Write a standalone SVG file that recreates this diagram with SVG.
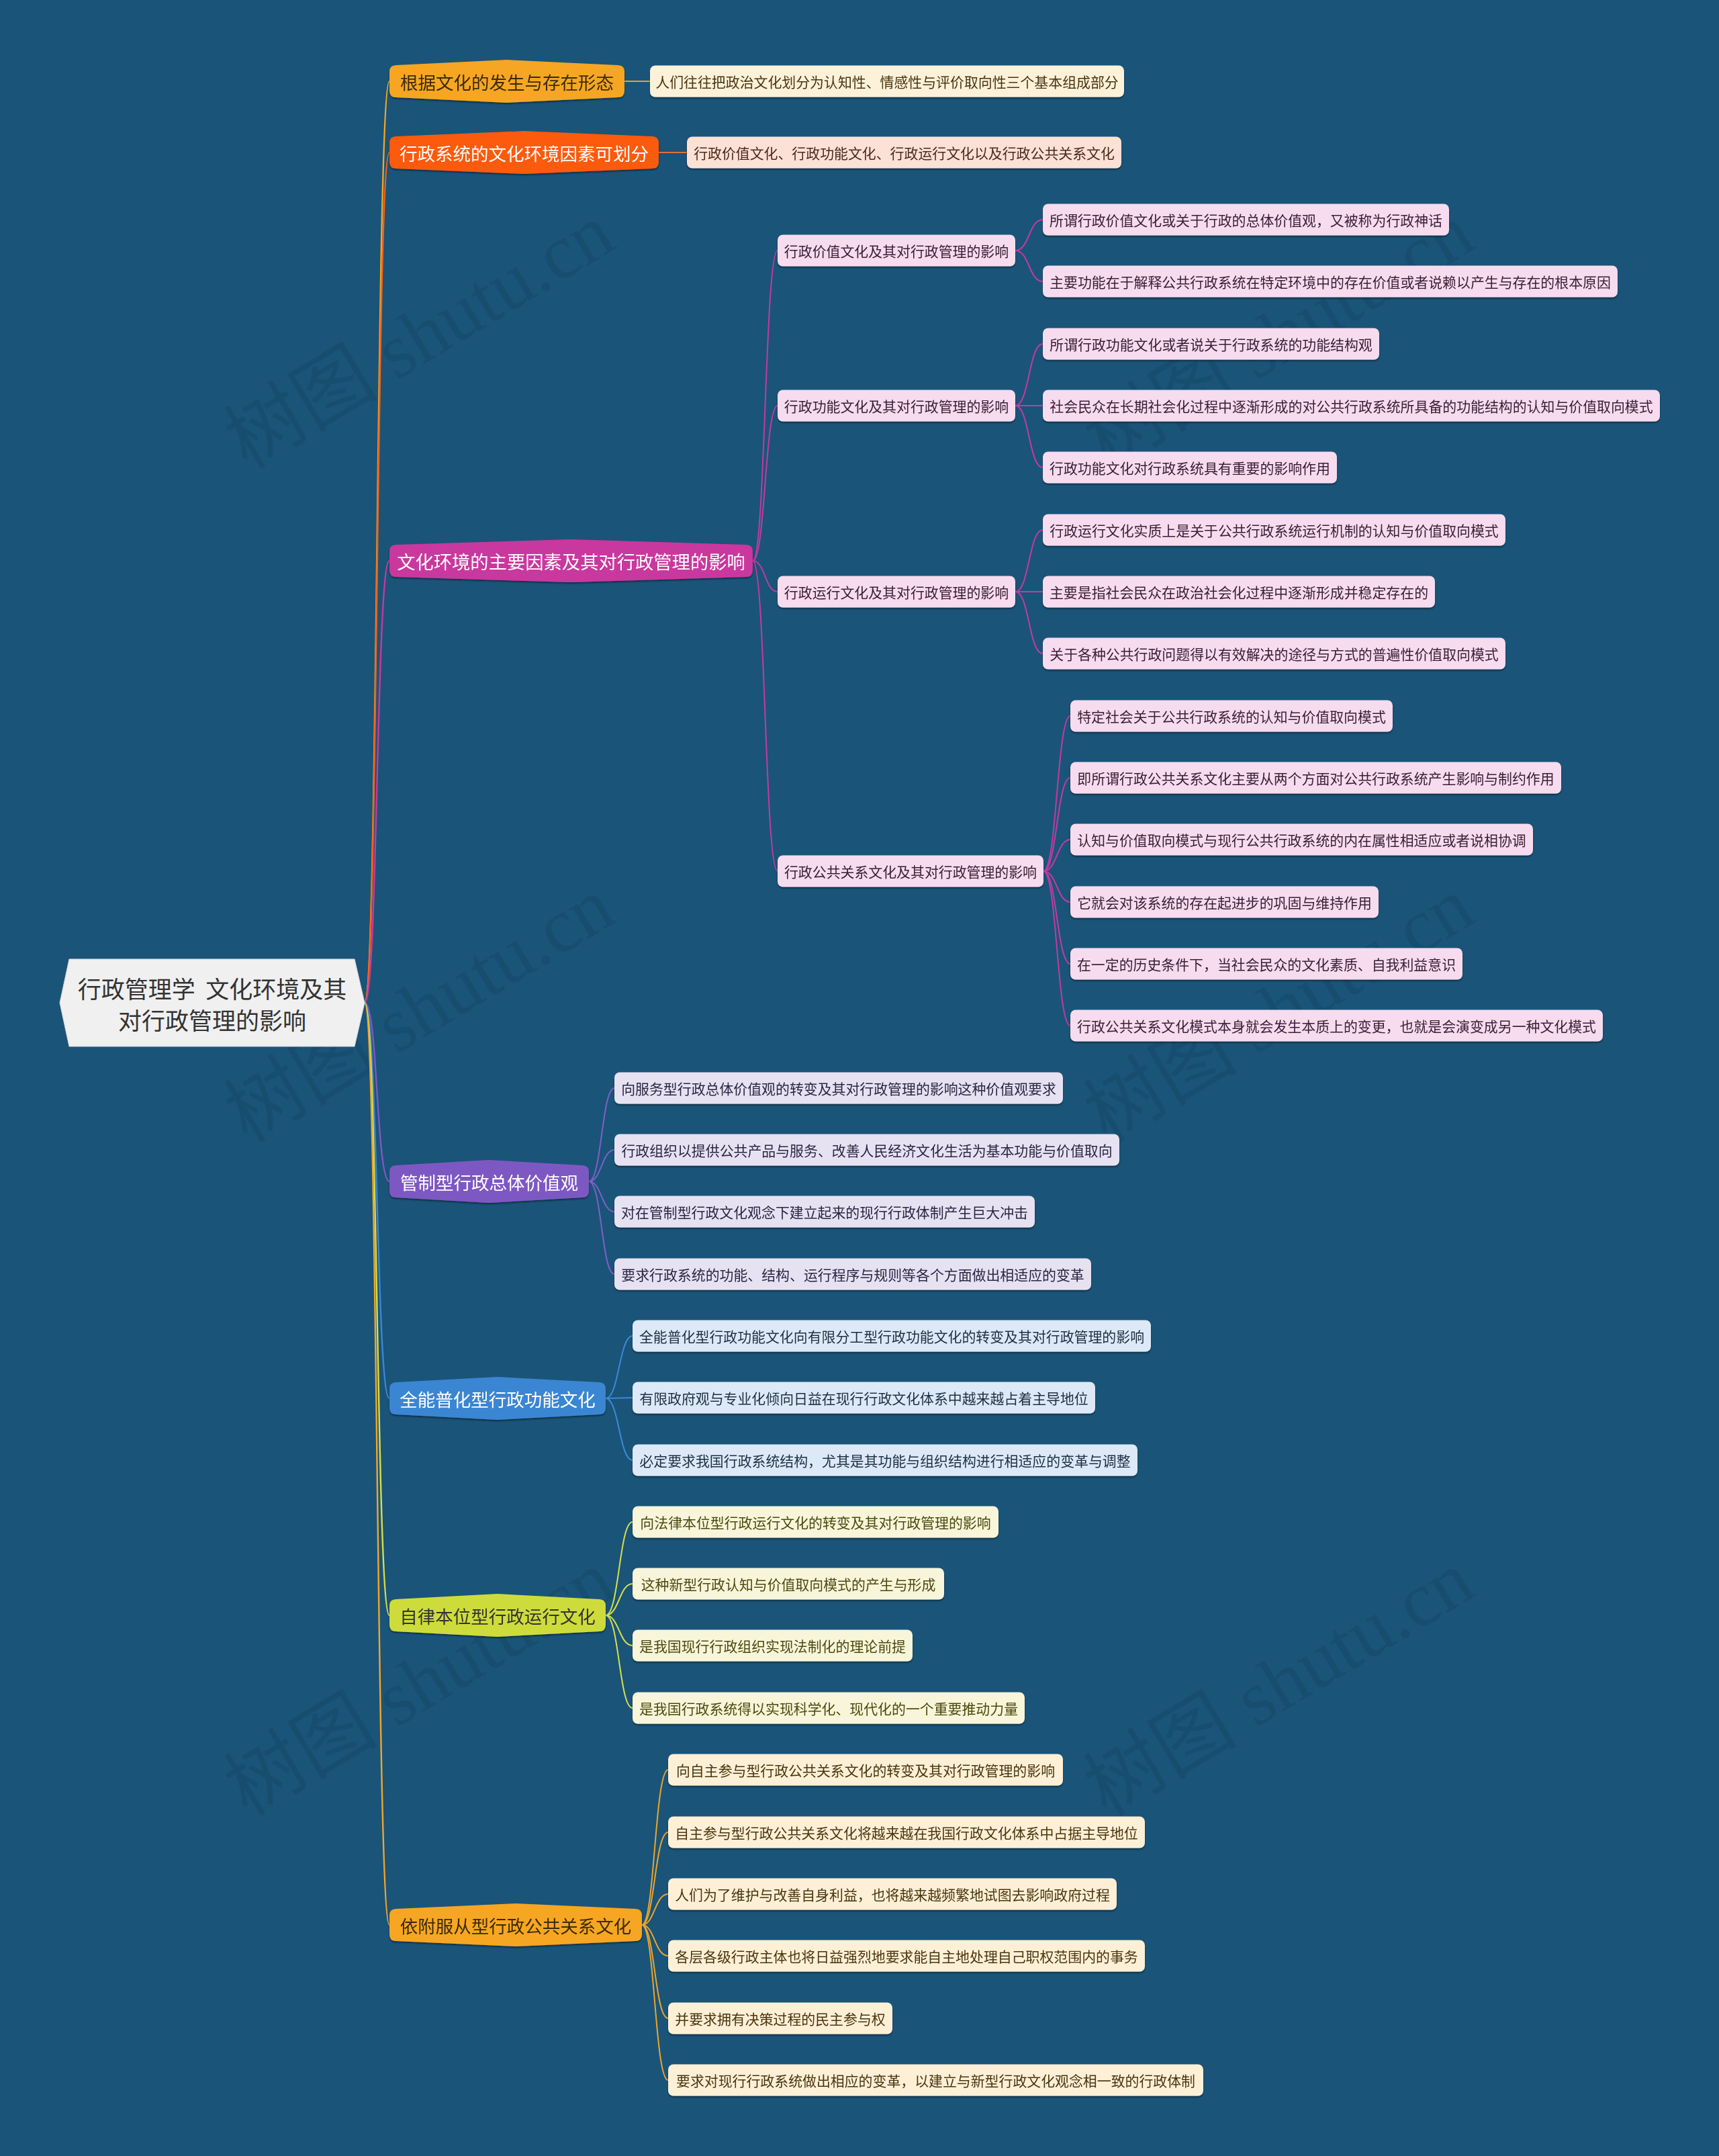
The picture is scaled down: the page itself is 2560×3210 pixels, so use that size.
<svg xmlns="http://www.w3.org/2000/svg" width="2560" height="3210" viewBox="0 0 2560 3210">
<defs>
<filter id="ds" x="-5%" y="-20%" width="110%" height="150%">
<feDropShadow dx="0" dy="2" stdDeviation="0.8" flood-color="#000" flood-opacity="0.45"/>
</filter>
</defs>
<style>
text{font-family:"Noto Sans CJK SC","Noto Sans",sans-serif;dominant-baseline:central;text-anchor:middle}
.wm{font-family:"Liberation Serif","Noto Sans CJK SC",serif;font-size:115px;fill:#000;fill-opacity:0.08;text-anchor:start;dominant-baseline:auto}
.l1{font-size:26.5px}
.lf{font-size:20.9px}
.w{fill:#ffffff}
.dk{fill:#3a2a08}
.c{fill:none;stroke-width:2}
.rc{fill:none;stroke-width:2.4}
.lv{filter:url(#ds)}
.a rect{fill:#fdf1d9}.a text{fill:#4a3510}
.b rect{fill:#fde1d4}.b text{fill:#4a2a1a}
.m rect{fill:#f6dcee}.m text{fill:#3a1a35}
.p rect{fill:#e7e2f2}.p text{fill:#2a2542}
.bl rect{fill:#dde9f6}.bl text{fill:#1e2f42}
.y rect{fill:#f7f6da}.y text{fill:#4c4a10}
.o rect{fill:#fdf0d6}.o text{fill:#4a3510}
</style>
<rect x="0" y="0" width="2560" height="3210" fill="#1a5479"/>
<g id="watermarks">
<text class="wm" transform="translate(368,700) rotate(-31)">树图 shutu.cn</text>
<text class="wm" transform="translate(1648,700) rotate(-31)">树图 shutu.cn</text>
<text class="wm" transform="translate(368,1703) rotate(-31)">树图 shutu.cn</text>
<text class="wm" transform="translate(1648,1703) rotate(-31)">树图 shutu.cn</text>
<text class="wm" transform="translate(368,2706) rotate(-31)">树图 shutu.cn</text>
<text class="wm" transform="translate(1648,2706) rotate(-31)">树图 shutu.cn</text>
</g>
<g id="connectors">
<path class="rc" stroke="#f2a62a" d="M543,1493 C563,1493 560,121 580,121"/>
<path class="rc" stroke="#fc5f14" d="M543,1493 C563,1493 560,227 580,227"/>
<path class="rc" stroke="#c9389e" d="M543,1493 C563,1493 560,835 580,835"/>
<path class="rc" stroke="#7e58c2" d="M543,1493 C563,1493 560,1759 580,1759"/>
<path class="rc" stroke="#3a86d2" d="M543,1493 C563,1493 560,2082 580,2082"/>
<path class="rc" stroke="#d4df45" d="M543,1493 C563,1493 560,2405 580,2405"/>
<path class="rc" stroke="#f2a62a" d="M543,1493 C563,1493 560,2866 580,2866"/>
<path class="c" stroke="#e8a23a" d="M930,121 L968,121"/>
<path class="c" stroke="#e0703a" d="M981,227 L1023,227"/>
<g stroke="#c23b9f">
<path class="c" d="M1121,835 C1140,835 1139,373 1158,373"/>
<path class="c" d="M1121,835 C1140,835 1139,604 1158,604"/>
<path class="c" d="M1121,835 C1140,835 1139,881 1158,881"/>
<path class="c" d="M1121,835 C1140,835 1139,1297 1158,1297"/>
<path class="c" d="M1512,373 C1533,373 1532,327 1553,327"/>
<path class="c" d="M1512,373 C1533,373 1532,419 1553,419"/>
<path class="c" d="M1512,604 C1533,604 1532,512 1553,512"/>
<path class="c" d="M1512,604 L1553,604"/>
<path class="c" d="M1512,604 C1533,604 1532,696 1553,696"/>
<path class="c" d="M1512,881 C1533,881 1532,789 1553,789"/>
<path class="c" d="M1512,881 L1553,881"/>
<path class="c" d="M1512,881 C1533,881 1532,973 1553,973"/>
<path class="c" d="M1554,1297 C1574,1297 1574,1066 1594,1066"/>
<path class="c" d="M1554,1297 C1574,1297 1574,1158 1594,1158"/>
<path class="c" d="M1554,1297 C1574,1297 1574,1250 1594,1250"/>
<path class="c" d="M1554,1297 C1574,1297 1574,1343 1594,1343"/>
<path class="c" d="M1554,1297 C1574,1297 1574,1435 1594,1435"/>
<path class="c" d="M1554,1297 C1574,1297 1574,1527 1594,1527"/>
</g>
<g stroke="#7e60c6">
<path class="c" d="M877,1759 C896,1759 896,1620 915,1620"/>
<path class="c" d="M877,1759 C896,1759 896,1712 915,1712"/>
<path class="c" d="M877,1759 C896,1759 896,1804 915,1804"/>
<path class="c" d="M877,1759 C896,1759 896,1897 915,1897"/>
</g>
<g stroke="#3a8ad6">
<path class="c" d="M902,2082 C922,2082 922,1989 942,1989"/>
<path class="c" d="M902,2082 L942,2081"/>
<path class="c" d="M902,2082 C922,2082 922,2174 942,2174"/>
</g>
<g stroke="#d4e04a">
<path class="c" d="M902,2405 C922,2405 922,2266 942,2266"/>
<path class="c" d="M902,2405 C922,2405 922,2358 942,2358"/>
<path class="c" d="M902,2405 C922,2405 922,2450 942,2450"/>
<path class="c" d="M902,2405 C922,2405 922,2543 942,2543"/>
</g>
<g stroke="#eea52a">
<path class="c" d="M956,2866 C975,2866 975,2635 995,2635"/>
<path class="c" d="M956,2866 C975,2866 975,2728 995,2728"/>
<path class="c" d="M956,2866 C975,2866 975,2820 995,2820"/>
<path class="c" d="M956,2866 C975,2866 975,2912 995,2912"/>
<path class="c" d="M956,2866 C975,2866 975,3005 995,3005"/>
<path class="c" d="M956,2866 C975,2866 975,3097 995,3097"/>
</g>
</g>
<g id="root">
<polygon points="89,1493 103,1428 528,1428 543,1493 528,1558 103,1558" fill="#f0f0f0" stroke="#d8d8d8" stroke-width="1"/>
<text x="316" y="1470" font-size="35" fill="#333333" xml:space="preserve">行政管理学  文化环境及其</text>
<text x="316" y="1517" font-size="35" fill="#333333">对行政管理的影响</text>
</g>
<g id="n1" class="lv"><path fill="#f6a623" d="M590,97 L755,89 L920,97 Q930,97 930,107 L930,135 Q930,145 920,145 L755,153 L590,145 Q580,145 580,135 L580,107 Q580,97 590,97 Z"/><text class="l1 dk" x="755" y="121">根据文化的发生与存在形态</text></g>
<g id="n2" class="lv"><path fill="#fc5a0c" d="M590,203 L780,195 L971,203 Q981,203 981,213 L981,241 Q981,251 971,251 L780,259 L590,251 Q580,251 580,241 L580,213 Q580,203 590,203 Z"/><text class="l1 w" x="780.5" y="227">行政系统的文化环境因素可划分</text></g>
<g id="n3" class="lv"><path fill="#c9389e" d="M590,811 L850,803 L1111,811 Q1121,811 1121,821 L1121,849 Q1121,859 1111,859 L850,867 L590,859 Q580,859 580,849 L580,821 Q580,811 590,811 Z"/><text class="w" font-size="27.3" x="850.5" y="835">文化环境的主要因素及其对行政管理的影响</text></g>
<g id="n4" class="lv"><path fill="#7e58c2" d="M590,1735 L728,1727 L867,1735 Q877,1735 877,1745 L877,1773 Q877,1783 867,1783 L728,1791 L590,1783 Q580,1783 580,1773 L580,1745 Q580,1735 590,1735 Z"/><text class="l1 w" x="728.5" y="1759">管制型行政总体价值观</text></g>
<g id="n5" class="lv"><path fill="#3a86d2" d="M590,2058 L741,2050 L892,2058 Q902,2058 902,2068 L902,2096 Q902,2106 892,2106 L741,2114 L590,2106 Q580,2106 580,2096 L580,2068 Q580,2058 590,2058 Z"/><text class="l1 w" x="741" y="2082">全能普化型行政功能文化</text></g>
<g id="n6" class="lv"><path fill="#cedc3a" d="M590,2381 L741,2373 L892,2381 Q902,2381 902,2391 L902,2419 Q902,2429 892,2429 L741,2437 L590,2429 Q580,2429 580,2419 L580,2391 Q580,2381 590,2381 Z"/><text class="l1" fill="#333333" x="741" y="2405">自律本位型行政运行文化</text></g>
<g id="n7" class="lv"><path fill="#f6a623" d="M590,2842 L768,2834 L946,2842 Q956,2842 956,2852 L956,2880 Q956,2890 946,2890 L768,2898 L590,2890 Q580,2890 580,2880 L580,2852 Q580,2842 590,2842 Z"/><text class="l1 dk" x="768" y="2866">依附服从型行政公共关系文化</text></g>
<g id="La" class="lv a"><rect x="968" y="97.5" width="706" height="47" rx="8"/><text class="lf" x="1321" y="121">人们往往把政治文化划分为认知性、情感性与评价取向性三个基本组成部分</text></g>
<g id="Lb" class="lv b"><rect x="1023" y="203.5" width="647" height="47" rx="8"/><text class="lf" x="1346.5" y="227">行政价值文化、行政功能文化、行政运行文化以及行政公共关系文化</text></g>
<g id="S1" class="lv m"><rect x="1158" y="349.5" width="354" height="47" rx="8"/><text class="lf" x="1335" y="373">行政价值文化及其对行政管理的影响</text></g>
<g id="S2" class="lv m"><rect x="1158" y="580.5" width="354" height="47" rx="8"/><text class="lf" x="1335" y="604">行政功能文化及其对行政管理的影响</text></g>
<g id="S3" class="lv m"><rect x="1158" y="857.5" width="354" height="47" rx="8"/><text class="lf" x="1335" y="881">行政运行文化及其对行政管理的影响</text></g>
<g id="S4" class="lv m"><rect x="1158" y="1273.5" width="396" height="47" rx="8"/><text class="lf" x="1356" y="1297">行政公共关系文化及其对行政管理的影响</text></g>
<g id="k0" class="lv m"><rect x="1553" y="303.5" width="605" height="47" rx="8"/><text class="lf" x="1855.5" y="327">所谓行政价值文化或关于行政的总体价值观，又被称为行政神话</text></g>
<g id="k1" class="lv m"><rect x="1553" y="395.5" width="856" height="47" rx="8"/><text class="lf" x="1981" y="419">主要功能在于解释公共行政系统在特定环境中的存在价值或者说赖以产生与存在的根本原因</text></g>
<g id="k2" class="lv m"><rect x="1553" y="488.5" width="501" height="47" rx="8"/><text class="lf" x="1803.5" y="512">所谓行政功能文化或者说关于行政系统的功能结构观</text></g>
<g id="k3" class="lv m"><rect x="1553" y="580.5" width="919" height="47" rx="8"/><text class="lf" x="2012.5" y="604">社会民众在长期社会化过程中逐渐形成的对公共行政系统所具备的功能结构的认知与价值取向模式</text></g>
<g id="k4" class="lv m"><rect x="1553" y="672.5" width="438" height="47" rx="8"/><text class="lf" x="1772" y="696">行政功能文化对行政系统具有重要的影响作用</text></g>
<g id="k5" class="lv m"><rect x="1553" y="765.5" width="689" height="47" rx="8"/><text class="lf" x="1897.5" y="789">行政运行文化实质上是关于公共行政系统运行机制的认知与价值取向模式</text></g>
<g id="k6" class="lv m"><rect x="1553" y="857.5" width="584" height="47" rx="8"/><text class="lf" x="1845" y="881">主要是指社会民众在政治社会化过程中逐渐形成并稳定存在的</text></g>
<g id="k7" class="lv m"><rect x="1553" y="949.5" width="689" height="47" rx="8"/><text class="lf" x="1897.5" y="973">关于各种公共行政问题得以有效解决的途径与方式的普遍性价值取向模式</text></g>
<g id="k8" class="lv m"><rect x="1594" y="1042.5" width="480" height="47" rx="8"/><text class="lf" x="1834" y="1066">特定社会关于公共行政系统的认知与价值取向模式</text></g>
<g id="k9" class="lv m"><rect x="1594" y="1134.5" width="731" height="47" rx="8"/><text class="lf" x="1959.5" y="1158">即所谓行政公共关系文化主要从两个方面对公共行政系统产生影响与制约作用</text></g>
<g id="k10" class="lv m"><rect x="1594" y="1226.5" width="689" height="47" rx="8"/><text class="lf" x="1938.5" y="1250">认知与价值取向模式与现行公共行政系统的内在属性相适应或者说相协调</text></g>
<g id="k11" class="lv m"><rect x="1594" y="1319.5" width="459" height="47" rx="8"/><text class="lf" x="1823.5" y="1343">它就会对该系统的存在起进步的巩固与维持作用</text></g>
<g id="k12" class="lv m"><rect x="1594" y="1411.5" width="584" height="47" rx="8"/><text class="lf" x="1886" y="1435">在一定的历史条件下，当社会民众的文化素质、自我利益意识</text></g>
<g id="k13" class="lv m"><rect x="1594" y="1503.5" width="793" height="47" rx="8"/><text class="lf" x="1990.5" y="1527">行政公共关系文化模式本身就会发生本质上的变更，也就是会演变成另一种文化模式</text></g>
<g id="p0" class="lv p"><rect x="915" y="1596.5" width="668" height="47" rx="8"/><text class="lf" x="1249" y="1620">向服务型行政总体价值观的转变及其对行政管理的影响这种价值观要求</text></g>
<g id="p1" class="lv p"><rect x="915" y="1688.5" width="752" height="47" rx="8"/><text class="lf" x="1291" y="1712">行政组织以提供公共产品与服务、改善人民经济文化生活为基本功能与价值取向</text></g>
<g id="p2" class="lv p"><rect x="915" y="1780.5" width="626" height="47" rx="8"/><text class="lf" x="1228" y="1804">对在管制型行政文化观念下建立起来的现行行政体制产生巨大冲击</text></g>
<g id="p3" class="lv p"><rect x="915" y="1873.5" width="710" height="47" rx="8"/><text class="lf" x="1270" y="1897">要求行政系统的功能、结构、运行程序与规则等各个方面做出相适应的变革</text></g>
<g id="b0" class="lv bl"><rect x="942" y="1965.5" width="772" height="47" rx="8"/><text class="lf" x="1328" y="1989">全能普化型行政功能文化向有限分工型行政功能文化的转变及其对行政管理的影响</text></g>
<g id="b1" class="lv bl"><rect x="942" y="2057.5" width="689" height="47" rx="8"/><text class="lf" x="1286.5" y="2081">有限政府观与专业化倾向日益在现行行政文化体系中越来越占着主导地位</text></g>
<g id="b2" class="lv bl"><rect x="942" y="2150.5" width="752" height="47" rx="8"/><text class="lf" x="1318" y="2174">必定要求我国行政系统结构，尤其是其功能与组织结构进行相适应的变革与调整</text></g>
<g id="y0" class="lv y"><rect x="942" y="2242.5" width="545" height="47" rx="8"/><text class="lf" x="1214.5" y="2266">向法律本位型行政运行文化的转变及其对行政管理的影响</text></g>
<g id="y1" class="lv y"><rect x="942" y="2334.5" width="464" height="47" rx="8"/><text class="lf" x="1174" y="2358">这种新型行政认知与价值取向模式的产生与形成</text></g>
<g id="y2" class="lv y"><rect x="942" y="2426.5" width="417" height="47" rx="8"/><text class="lf" x="1150.5" y="2450">是我国现行行政组织实现法制化的理论前提</text></g>
<g id="y3" class="lv y"><rect x="942" y="2519.5" width="584" height="47" rx="8"/><text class="lf" x="1234" y="2543">是我国行政系统得以实现科学化、现代化的一个重要推动力量</text></g>
<g id="o0" class="lv o"><rect x="995" y="2611.5" width="588" height="47" rx="8"/><text class="lf" x="1289" y="2635">向自主参与型行政公共关系文化的转变及其对行政管理的影响</text></g>
<g id="o1" class="lv o"><rect x="995" y="2704.5" width="710" height="47" rx="8"/><text class="lf" x="1350" y="2728">自主参与型行政公共关系文化将越来越在我国行政文化体系中占据主导地位</text></g>
<g id="o2" class="lv o"><rect x="995" y="2796.5" width="668" height="47" rx="8"/><text class="lf" x="1329" y="2820">人们为了维护与改善自身利益，也将越来越频繁地试图去影响政府过程</text></g>
<g id="o3" class="lv o"><rect x="995" y="2888.5" width="710" height="47" rx="8"/><text class="lf" x="1350" y="2912">各层各级行政主体也将日益强烈地要求能自主地处理自己职权范围内的事务</text></g>
<g id="o4" class="lv o"><rect x="995" y="2981.5" width="334" height="47" rx="8"/><text class="lf" x="1162" y="3005">并要求拥有决策过程的民主参与权</text></g>
<g id="o5" class="lv o"><rect x="995" y="3073.5" width="797" height="47" rx="8"/><text class="lf" x="1393.5" y="3097">要求对现行行政系统做出相应的变革，以建立与新型行政文化观念相一致的行政体制</text></g>
</svg>
